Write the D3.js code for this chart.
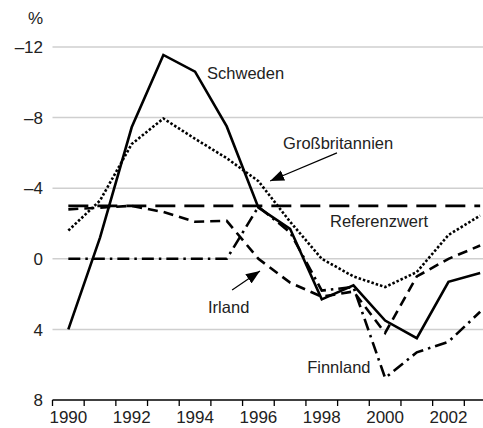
<!DOCTYPE html>
<html>
<head>
<meta charset="utf-8">
<script src="https://cdn.jsdelivr.net/npm/d3@7"></script>
<style>
  html, body { margin: 0; padding: 0; background: #fff; }
  svg { display: block; font-family: "Liberation Sans", Arial, sans-serif; }
  .tick-label { font-size: 17px; fill: #222; }
  .series-label { font-size: 16.5px; fill: #222; }
</style>
</head>
<body>
<svg id="chart" width="483" height="428"></svg>
<script>
// Budget balance in % of GDP (axis is inverted: deficits on top)
var years = [1990, 1991, 1992, 1993, 1994, 1995, 1996, 1997, 1998, 1999, 2000, 2001, 2002, 2003];
var schweden       = [4.0, -1.2, -7.45, -11.55, -10.6, -7.5, -2.9, -1.7, 2.3, 1.5, 3.5, 4.5, 1.3, 0.8];
var grossbritannien = [-1.6, -3.3, -6.5, -7.95, -6.8, -5.7, -4.4, -2.1, 0.0, 1.0, 1.6, 0.75, -1.35, -2.45];
var irland         = [-2.8, -2.9, -3.0, -2.65, -2.1, -2.15, 0.0, 1.35, 2.15, 1.85, 4.2, 1.0, 0.0, -0.75];
var finnland       = [0, 0, 0, 0, 0, 0, -2.95, -1.5, 1.8, 1.6, 6.75, 5.3, 4.7, 3.0];
var referenzwert = -3;

var yTicks = [-12, -8, -4, 0, 4, 8];
var xLabelYears = [1990, 1992, 1994, 1996, 1998, 2000, 2002];

var svg = d3.select('#chart');

// Scales
var x = d3.scaleBand()
    .domain(years)
    .range([52.5, 496])
    .padding(0);
var bw = x.bandwidth();
var xc = d3.scaleLinear()
    .domain([years[0], years[years.length - 1]])
    .range([x(years[0]) + bw / 2, x(years[years.length - 1]) + bw / 2]);
var y = d3.scaleLinear()
    .domain([-12, 8])
    .range([47, 400]);

// Gridlines
svg.append('g')
    .selectAll('line')
    .data(yTicks.slice(0, -1))
    .enter().append('line')
        .attr('x1', 52.5)
        .attr('x2', 483)
        .attr('y1', function(d) { return y(d); })
        .attr('y2', function(d) { return y(d); })
        .attr('stroke', '#cfcfcf')
        .attr('stroke-width', 1.5);

// y labels
svg.append('g')
    .selectAll('text')
    .data(yTicks)
    .enter().append('text')
        .attr('class', 'tick-label')
        .attr('x', 43)
        .attr('y', function(d) { return y(d); })
        .attr('dy', '0.36em')
        .attr('text-anchor', 'end')
        .text(function(d) { return d < 0 ? '\u2013' + Math.abs(d) : d; });

svg.append('text')
    .attr('class', 'tick-label')
    .attr('x', 43)
    .attr('y', 24)
    .attr('text-anchor', 'end')
    .text('%');

// x axis
var xAxis = svg.append('g');
xAxis.append('line')
    .attr('x1', 52.5).attr('x2', 483)
    .attr('y1', y(8)).attr('y2', y(8))
    .attr('stroke', '#000').attr('stroke-width', 1.5);
xAxis.selectAll('.xt')
    .data(years)
    .enter().append('line')
        .attr('class', 'xt')
        .attr('x1', function(d) { return x(d); })
        .attr('x2', function(d) { return x(d); })
        .attr('y1', y(8))
        .attr('y2', y(8) + 6)
        .attr('stroke', '#000').attr('stroke-width', 1.3);
xAxis.selectAll('text')
    .data(xLabelYears)
    .enter().append('text')
        .attr('class', 'tick-label')
        .attr('x', function(d) { return xc(d); })
        .attr('y', 423)
        .attr('text-anchor', 'middle')
        .text(function(d) { return d; });

// Lines
var line = d3.line()
    .x(function(d, i) { return xc(years[i]); })
    .y(function(d) { return y(d); });

var series = [
    { values: years.map(function() { return referenzwert; }), dash: '20,9' },
    { values: finnland, dash: '12,5,2.5,5' },
    { values: irland, dash: '10,6' },
    { values: grossbritannien, dash: '2.5,2' },
    { values: schweden, dash: null }
];

svg.append('g')
    .selectAll('path')
    .data(series)
    .enter().append('path')
        .attr('d', function(d) { return line(d.values); })
        .attr('fill', 'none')
        .attr('stroke', '#000')
        .attr('stroke-width', 2.6)
        .attr('stroke-linejoin', 'miter')
        .attr('stroke-dasharray', function(d) { return d.dash; });

// Labels (positioned in data units)
var labels = [
    { text: 'Schweden', year: 1994.38, value: -10.2 },
    { text: 'Großbritannien', year: 1996.78, value: -6.22 },
    { text: 'Referenzwert', year: 1998.26, value: -1.8 },
    { text: 'Irland', year: 1994.41, value: 3.07 },
    { text: 'Finnland', year: 1997.54, value: 6.47 }
];
svg.append('g')
    .selectAll('text')
    .data(labels)
    .enter().append('text')
        .attr('class', 'series-label')
        .attr('x', function(d) { return xc(d.year); })
        .attr('y', function(d) { return y(d.value); })
        .text(function(d) { return d.text; });

// Arrows
svg.append('defs').append('marker')
    .attr('id', 'arrow')
    .attr('viewBox', '0 -6 14 12')
    .attr('refX', 14).attr('refY', 0)
    .attr('markerWidth', 14).attr('markerHeight', 12)
    .attr('markerUnits', 'userSpaceOnUse')
    .attr('orient', 'auto')
  .append('path')
    .attr('d', 'M0,-5.5L14,0L0,5.5Z')
    .attr('fill', '#000');

var arrows = [
    { from: [1998.48, -6.0], to: [1996.37, -4.41] },
    { from: [1995.17, 1.77], to: [1996.05, 0.69] }
];
svg.append('g')
    .selectAll('line')
    .data(arrows)
    .enter().append('line')
        .attr('x1', function(d) { return xc(d.from[0]); })
        .attr('y1', function(d) { return y(d.from[1]); })
        .attr('x2', function(d) { return xc(d.to[0]); })
        .attr('y2', function(d) { return y(d.to[1]); })
        .attr('stroke', '#000')
        .attr('stroke-width', 1.2)
        .attr('marker-end', 'url(#arrow)');
</script>
</body>
</html>
